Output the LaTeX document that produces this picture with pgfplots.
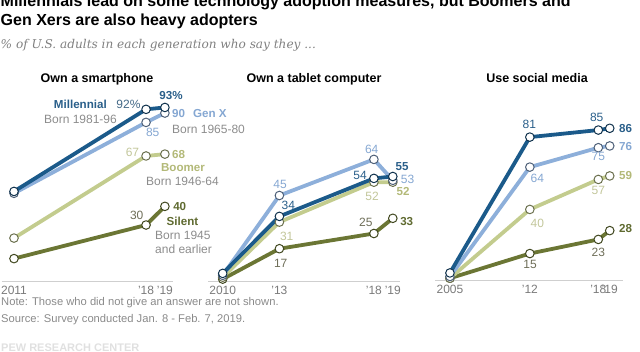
\documentclass[border=0pt]{standalone}
\usepackage{fontspec}
\setmainfont{Liberation Sans}
\newfontfamily\serifit{DejaVu Serif}
\usepackage{pgfplots}
\pgfplotsset{compat=1.18}

\definecolor{mill}{HTML}{1B5A8A}
\definecolor{genx}{HTML}{8DAFDA}
\definecolor{boom}{HTML}{C3CC8E}
\definecolor{sil}{HTML}{6B7634}
\definecolor{milltxt}{HTML}{2A5F8A}
\definecolor{genxtxt}{HTML}{85A7D2}
\definecolor{boomtxt}{HTML}{B3B978}
\definecolor{boomreg}{HTML}{C2C69A}
\definecolor{siltxt}{HTML}{5F6A30}
\definecolor{silreg}{HTML}{6E6E58}
\definecolor{borngray}{HTML}{8C8C8C}
\definecolor{tickgray}{HTML}{7A7A7A}
\definecolor{axisgray}{HTML}{CFCFCF}
\definecolor{subgray}{HTML}{808080}
\definecolor{notegray}{HTML}{8A8A8A}

\newcommand\fs[1]{\fontsize{#1}{#1}\selectfont}
% \lab[anchor]{x}{y}{color}{font}{text}
\newcommand\lab[6][center]{\node[anchor=#1,inner sep=0pt,text=#4,font=#5] at (#2,351-#3) {#6};}
\newcommand\reg{\fs{12}}
\newcommand\bld{\bfseries\fs{11.6}}

\pgfplotsset{
  panel/.style={
    scale only axis, clip=false,
    axis x line=bottom, axis y line=none,
    axis line style={-, draw=axisgray, line width=0.8pt},
    major tick length=0pt,
    ymin=0, ymax=100,
    xticklabel style={anchor=base, inner sep=0pt, yshift=-13.8pt, font=\fs{12}, text=tickgray},
    every axis plot/.append style={line width=3.8pt, line join=round, mark=*, mark size=4.3pt},
  },
  millp/.style={color=mill, mark options={draw=mill!55!black, fill=white, line width=1pt}},
  genxp/.style={color=genx, mark options={draw=genx!55!black, fill=white, line width=1pt}},
  boomp/.style={color=boom, mark options={draw=boom!55!black, fill=white, line width=1pt}},
  silp/.style={color=sil, mark options={draw=sil!60!black, fill=white, line width=1pt}},
}

\begin{document}
\begin{tikzpicture}[x=1pt,y=1pt]
\useasboundingbox (0,0) rectangle (640,351);
\clip (0,0) rectangle (640,351);

% titles
\node[anchor=base west,inner sep=0pt,font=\bfseries\fs{16}] at (0.5,351-6.5) {Millennials lead on some technology adoption measures, but Boomers and};
\node[anchor=base west,inner sep=0pt,font=\bfseries\fs{16}] at (0.5,351-25.5) {Gen Xers are also heavy adopters};
\node[anchor=base west,inner sep=0pt,font=\serifit\itshape\fs{12.1},text=subgray] at (0.5,351-49) {\% of U.S. adults in each generation who say they ...};

\node[anchor=base,inner sep=0pt,font=\bfseries\fs{12.5}] at (97,351-82.5) {Own a smartphone};
\node[anchor=base,inner sep=0pt,font=\bfseries\fs{12.5}] at (314,351-82.5) {Own a tablet computer};
\node[anchor=base,inner sep=0pt,font=\bfseries\fs{12.5}] at (537,351-82.5) {Use social media};

% Panel 1: smartphone
\begin{axis}[panel, at={(2pt,70pt)}, anchor=south west, width=170.9pt, height=186.6pt,
  xmin=2010.364, xmax=2019.424, xtick={2011,2018,2019}, xticklabels={2011,'18,'19}]
\addplot[silp] coordinates {(2011,12) (2018,30) (2019,40)};
\addplot[boomp] coordinates {(2011,23) (2018,67) (2019,68)};
\addplot[genxp] coordinates {(2011,47) (2018,85) (2019,90)};
\addplot[millp] coordinates {(2011,48) (2018,92) (2019,93)};
\end{axis}

% Panel 2: tablet
\begin{axis}[panel, at={(208pt,70pt)}, anchor=south west, width=191.8pt, height=190pt,
  xmin=2009.222, xmax=2019.37, xtick={2010,2013,2018,2019}, xticklabels={2010,'13,'18,'19}]
\addplot[silp] coordinates {(2010,1) (2013,17) (2018,25) (2019,33)};
\addplot[boomp] coordinates {(2010,2) (2013,31) (2018,52) (2019,52)};
\addplot[genxp] coordinates {(2010,3) (2013,45) (2018,64) (2019,53)};
\addplot[millp] coordinates {(2010,4) (2013,34) (2018,54) (2019,55)};
\end{axis}

% Panel 3: social media
\begin{axis}[panel, at={(435pt,71pt)}, anchor=south west, width=188.2pt, height=176.4pt,
  xmin=2003.69, xmax=2020.18, xtick={2005,2012,2018,2019}, xticklabels={2005,'12,'18,'19}]
\addplot[silp] coordinates {(2005,1) (2012,15) (2018,23) (2019,28)};
\addplot[boomp] coordinates {(2005,1) (2012,40) (2018,57) (2019,59)};
\addplot[genxp] coordinates {(2005,2) (2012,64) (2018,75) (2019,76)};
\addplot[millp] coordinates {(2005,4) (2012,81) (2018,85) (2019,86)};
\end{axis}

% Panel 1 labels
\lab[east]{107}{104.7}{milltxt}{\bld}{Millennial}
\lab{128.5}{104.7}{milltxt!70!gray}{\reg}{92\%}
\lab{80.5}{119.3}{borngray}{\reg}{Born 1981-96}
\lab{171}{96}{milltxt}{\bld}{93\%}
\lab{178.5}{114}{genxtxt}{\bld}{90}
\lab[west]{193}{114}{genxtxt}{\bld}{Gen X}
\lab[west]{172}{129.5}{borngray}{\reg}{Born 1965-80}
\lab{152.7}{132.7}{genxtxt}{\reg}{85}
\lab{132.5}{152.3}{boomreg}{\reg}{67}
\lab{178.5}{155}{boomtxt}{\bld}{68}
\lab{183}{167.3}{boomtxt}{\bld}{Boomer}
\lab{182.5}{181}{borngray}{\reg}{Born 1946-64}
\lab{136.7}{215.3}{silreg}{\reg}{30}
\lab{179.7}{206.3}{siltxt}{\bld}{40}
\lab{182.5}{221.7}{siltxt}{\bld}{Silent}
\lab[west]{155}{235}{borngray}{\reg}{Born 1945}
\lab[west]{155}{249.3}{borngray}{\reg}{and earlier}

% Panel 2 labels
\lab{280}{184}{genxtxt}{\reg}{45}
\lab{288.3}{205}{milltxt}{\reg}{34}
\lab{286.7}{236.7}{boomreg}{\reg}{31}
\lab{280.7}{263.3}{silreg}{\reg}{17}
\lab{371.7}{149}{genxtxt}{\reg}{64}
\lab{360}{175}{milltxt}{\reg}{54}
\lab{372}{196.7}{boomreg}{\reg}{52}
\lab{365.8}{222.7}{silreg}{\reg}{25}
\lab{402}{166.7}{milltxt}{\bld}{55}
\lab{407.5}{179}{genxtxt}{\reg}{53}
\lab{403}{191.7}{boomtxt}{\bld}{52}
\lab{406.7}{221.7}{siltxt}{\bld}{33}

% Panel 3 labels
\lab{529.3}{124}{milltxt}{\reg}{81}
\lab{537.3}{178.3}{genxtxt}{\reg}{64}
\lab{537.3}{223.3}{boomreg}{\reg}{40}
\lab{530}{264}{silreg}{\reg}{15}
\lab{596.7}{117.3}{milltxt}{\reg}{85}
\lab{598.3}{156.7}{genxtxt}{\reg}{75}
\lab{598.3}{190.7}{boomreg}{\reg}{57}
\lab{598.3}{252.7}{silreg}{\reg}{23}
\lab{625.5}{128.3}{milltxt}{\bld}{86}
\lab{625.5}{146.7}{genxtxt}{\bld}{76}
\lab{625.5}{175.7}{boomtxt}{\bld}{59}
\lab{625.5}{228.3}{siltxt}{\bld}{28}

% notes
\lab[west]{1}{302.7}{notegray}{\fs{11.2}}{Note: Those who did not give an answer are not shown.}
\lab[west]{1}{319.3}{notegray}{\fs{11.2}}{Source: Survey conducted Jan. 8 - Feb. 7, 2019.}
\node[anchor=north west,inner sep=0pt,font=\bfseries\fs{11},text=black!12] at (1,351-344) {PEW RESEARCH CENTER};
\end{tikzpicture}
\end{document}
